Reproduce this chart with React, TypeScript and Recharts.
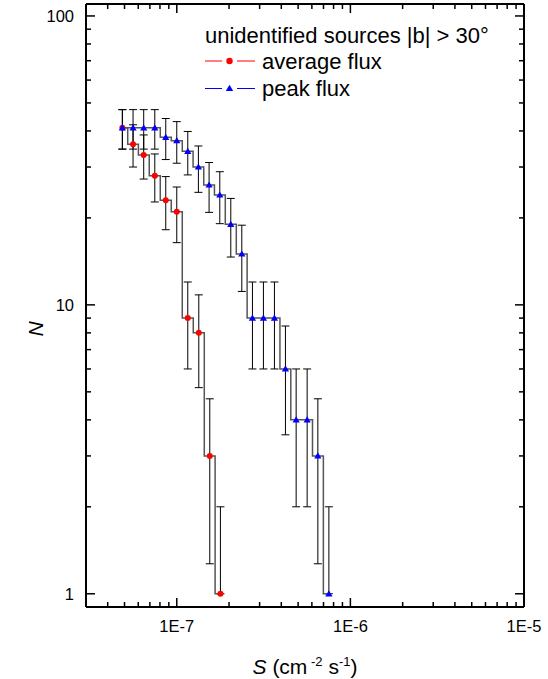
import React from 'react';
import { ComposedChart, Line, XAxis, YAxis, ErrorBar, Label } from 'recharts';

// ---- data ----
const S_AVG = [4.86e-8, 5.6e-8, 6.45e-8, 7.47e-8, 8.64e-8, 1.0e-7, 1.157e-7, 1.339e-7, 1.549e-7, 1.784e-7];
const N_AVG = [41, 36, 33, 28, 23, 21, 9, 8, 3, 1];
const ERR_AVG_LO = [6.4, 6.0, 5.74, 5.29, 4.8, 4.58, 3.0, 2.83, 1.73, 0];
const ERR_AVG_HI = [6.4, 6.0, 5.74, 5.29, 4.8, 4.58, 3.0, 2.83, 1.73, 1];

const S_PEAK = [
  4.86e-8, 5.6e-8, 6.45e-8, 7.47e-8, 8.64e-8, 1.0e-7, 1.157e-7, 1.332e-7, 1.535e-7, 1.769e-7,
  2.047e-7, 2.369e-7, 2.728e-7, 3.156e-7, 3.652e-7, 4.226e-7, 4.871e-7, 5.636e-7, 6.495e-7, 7.518e-7,
];
const N_PEAK = [41, 41, 41, 41, 38, 37, 34, 30, 26, 24, 19, 15, 9, 9, 9, 6, 4, 4, 3, 1];
const ERR_PEAK_LO = [6.4, 6.4, 6.4, 6.4, 6.16, 6.08, 5.83, 5.48, 5.1, 4.9, 4.36, 3.87, 3, 3, 3, 2.45, 2, 2, 1.73, 0];
const ERR_PEAK_HI = [6.4, 6.4, 6.4, 6.4, 6.16, 6.08, 5.83, 5.48, 5.1, 4.9, 4.36, 3.87, 3, 3, 3, 2.45, 2, 2, 1.73, 1];

const X_DOMAIN = [3e-8, 1e-5];
const Y_DOMAIN = [0.9, 110];
const X_TICKS_MAJOR = [1e-7, 1e-6, 1e-5];
const X_LABELS = ['1E-7', '1E-6', '1E-5'];
const X_TICKS_MINOR = [
  4e-8, 5e-8, 6e-8, 7e-8, 8e-8, 9e-8,
  2e-7, 3e-7, 4e-7, 5e-7, 6e-7, 7e-7, 8e-7, 9e-7,
  2e-6, 3e-6, 4e-6, 5e-6, 6e-6, 7e-6, 8e-6, 9e-6,
];
const Y_TICKS_MAJOR = [1, 10, 100];
const Y_LABELS = ['1', '10', '100'];
const Y_TICKS_MINOR = [2, 3, 4, 5, 6, 7, 8, 9, 20, 30, 40, 50, 60, 70, 80, 90];

const LEGEND_TITLE = 'unidentified sources |b| > 30°';
const SERIES_NAMES = ['average flux', 'peak flux'];

const avgData = S_AVG.map((s, i) => ({ s, n: N_AVG[i], err: [ERR_AVG_LO[i], ERR_AVG_HI[i]] }));
const peakData = S_PEAK.map((s, i) => ({ s, n: N_PEAK[i], err: [ERR_PEAK_LO[i], ERR_PEAK_HI[i]] }));

const X_TICKS = [...X_TICKS_MINOR, ...X_TICKS_MAJOR].sort((a, b) => a - b);
const Y_TICKS = [...Y_TICKS_MINOR, ...Y_TICKS_MAJOR].sort((a, b) => a - b);

const FONT = '"Liberation Sans", Arial, Helvetica, sans-serif';
const MAJOR_LEN = 9;
const MINOR_LEN = 5;

const BottomTick = (props: any) => {
  const { x, y, payload } = props;
  const idx = X_TICKS_MAJOR.indexOf(payload.value);
  const len = idx >= 0 ? MAJOR_LEN : MINOR_LEN;
  return (
    <g>
      <line x1={x} x2={x} y1={y} y2={y - len} stroke="#000" strokeWidth={1.5} />
      {idx >= 0 && (
        <text x={x} y={y + 25} textAnchor="middle" fontSize={16.5} fontFamily={FONT} fill="#000">
          {X_LABELS[idx]}
        </text>
      )}
    </g>
  );
};

const TopTick = (props: any) => {
  const { x, y, payload } = props;
  const len = X_TICKS_MAJOR.indexOf(payload.value) >= 0 ? MAJOR_LEN : MINOR_LEN;
  return <line x1={x} x2={x} y1={y} y2={y + len} stroke="#000" strokeWidth={1.5} />;
};

const LeftTick = (props: any) => {
  const { x, y, payload } = props;
  const idx = Y_TICKS_MAJOR.indexOf(payload.value);
  const len = idx >= 0 ? MAJOR_LEN : MINOR_LEN;
  return (
    <g>
      <line x1={x} x2={x + len} y1={y} y2={y} stroke="#000" strokeWidth={1.5} />
      {idx >= 0 && (
        <text x={x - 12} y={y + 6} textAnchor="end" fontSize={16.5} fontFamily={FONT} fill="#000">
          {Y_LABELS[idx]}
        </text>
      )}
    </g>
  );
};

const RightTick = (props: any) => {
  const { x, y, payload } = props;
  const len = Y_TICKS_MAJOR.indexOf(payload.value) >= 0 ? MAJOR_LEN : MINOR_LEN;
  return <line x1={x} x2={x - len} y1={y} y2={y} stroke="#000" strokeWidth={1.5} />;
};

const RedDot = (p: any) => {
  if (p.cx == null || p.cy == null) return <g key={p.index} />;
  return <circle key={`r${p.index}`} cx={p.cx} cy={p.cy} r={3} fill="#ff0000" />;
};

const BlueDot = (p: any) => {
  if (p.cx == null || p.cy == null) return <g key={p.index} />;
  const { cx, cy } = p;
  return (
    <path
      key={`b${p.index}`}
      d={`M${cx},${cy - 3.6} L${cx + 3.6},${cy + 2.6} L${cx - 3.6},${cy + 2.6} Z`}
      fill="#0000ff"
    />
  );
};

const XTitle = (props: any) => {
  const vb = props.viewBox || {};
  const cx = vb.x + vb.width / 2;
  const by = vb.y + 67;
  return (
    <text x={cx} y={by} textAnchor="middle" fontSize={21} fontFamily={FONT} fill="#000">
      <tspan fontStyle="italic">S</tspan>
      <tspan> (cm</tspan>
      <tspan dy={-8} fontSize={13}> -2</tspan>
      <tspan dy={8}> s</tspan>
      <tspan dy={-8} fontSize={13}>-1</tspan>
      <tspan dy={8}>)</tspan>
    </text>
  );
};

const YTitle = (props: any) => {
  const vb = props.viewBox || {};
  const x = vb.x + 43;
  const y = vb.y + 325;
  return (
    <text
      x={x}
      y={y}
      textAnchor="middle"
      fontSize={21}
      fontFamily={FONT}
      fontStyle="italic"
      fill="#000"
      transform={`rotate(-90, ${x}, ${y})`}
    >
      N
    </text>
  );
};

const LegendOverlay = () => (
  <svg
    width={548}
    height={679}
    style={{ position: 'absolute', left: 0, top: 0, pointerEvents: 'none' }}
  >
    <text x={205} y={42.5} fontSize={22} fontFamily={FONT} fill="#000">
      {LEGEND_TITLE}
    </text>
    <line x1={205} x2={222} y1={61} y2={61} stroke="#ff0000" strokeWidth={1} />
    <line x1={237} x2={255} y1={61} y2={61} stroke="#ff0000" strokeWidth={1} />
    <circle cx={229.5} cy={61} r={3.2} fill="#ff0000" />
    <text x={262} y={69} fontSize={22} fontFamily={FONT} fill="#000">
      {SERIES_NAMES[0]}
    </text>
    <line x1={205} x2={222} y1={88.5} y2={88.5} stroke="#0000ff" strokeWidth={1} />
    <line x1={237} x2={255} y1={88.5} y2={88.5} stroke="#0000ff" strokeWidth={1} />
    <path d="M229.5,84.8 L233.2,91 L225.8,91 Z" fill="#0000ff" />
    <text x={262} y={96} fontSize={22} fontFamily={FONT} fill="#000">
      {SERIES_NAMES[1]}
    </text>
  </svg>
);

export default function App() {
  return (
    <div style={{ position: 'absolute', left: 0, top: 0, width: 548, height: 679, background: '#fff' }}>
      <ComposedChart width={548} height={679} margin={{ top: 3, right: 23, bottom: 0, left: 0 }}>
        <XAxis
          xAxisId="b"
          dataKey="s"
          type="number"
          scale="log"
          domain={X_DOMAIN}
          allowDataOverflow
          ticks={X_TICKS}
          interval={0}
          height={72}
          tickSize={0}
          tickMargin={0}
          tickLine={false}
          tick={<BottomTick />}
          axisLine={{ stroke: '#000', strokeWidth: 2 }}
        >
          <Label content={<XTitle />} />
        </XAxis>
        <XAxis
          xAxisId="t"
          orientation="top"
          dataKey="s"
          type="number"
          scale="log"
          domain={X_DOMAIN}
          allowDataOverflow
          ticks={X_TICKS}
          interval={0}
          height={1}
          tickSize={0}
          tickMargin={0}
          tickLine={false}
          tick={<TopTick />}
          axisLine={{ stroke: '#000', strokeWidth: 2 }}
        />
        <YAxis
          yAxisId="l"
          dataKey="n"
          type="number"
          scale="log"
          domain={Y_DOMAIN}
          allowDataOverflow
          ticks={Y_TICKS}
          interval={0}
          width={86}
          tickSize={0}
          tickMargin={0}
          tickLine={false}
          tick={<LeftTick />}
          axisLine={{ stroke: '#000', strokeWidth: 2 }}
        >
          <Label content={<YTitle />} />
        </YAxis>
        <YAxis
          yAxisId="r"
          orientation="right"
          dataKey="n"
          type="number"
          scale="log"
          domain={Y_DOMAIN}
          allowDataOverflow
          ticks={Y_TICKS}
          interval={0}
          width={1}
          tickSize={0}
          tickMargin={0}
          tickLine={false}
          tick={<RightTick />}
          axisLine={{ stroke: '#000', strokeWidth: 2 }}
        />
        <Line
          data={avgData}
          xAxisId="b"
          yAxisId="l"
          dataKey="n"
          type="step"
          stroke="#555"
          strokeWidth={1.5}
          dot={RedDot}
          activeDot={false}
          isAnimationActive={false}
        >
          <ErrorBar dataKey="err" direction="y" width={4} stroke="#000" strokeWidth={1} isAnimationActive={false} />
        </Line>
        <Line
          data={peakData}
          xAxisId="b"
          yAxisId="l"
          dataKey="n"
          type="step"
          stroke="#555"
          strokeWidth={1.5}
          dot={BlueDot}
          activeDot={false}
          isAnimationActive={false}
        >
          <ErrorBar dataKey="err" direction="y" width={4} stroke="#000" strokeWidth={1} isAnimationActive={false} />
        </Line>
      </ComposedChart>
      <LegendOverlay />
    </div>
  );
}
